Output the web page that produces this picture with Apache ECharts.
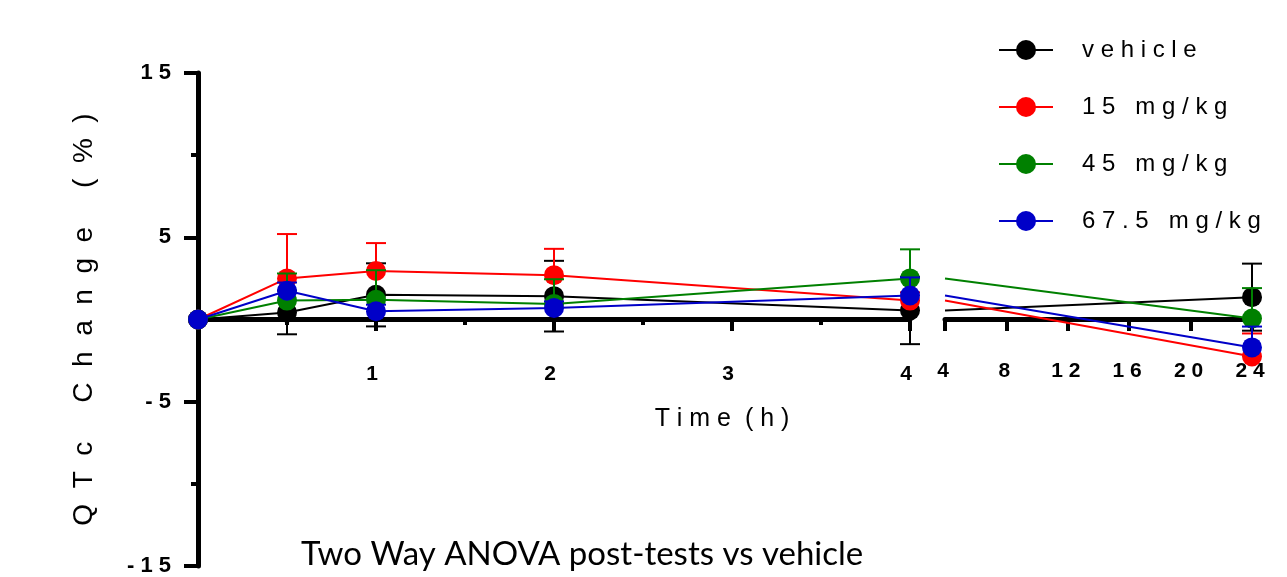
<!DOCTYPE html>
<html>
<head>
<meta charset="utf-8">
<script src="https://cdn.jsdelivr.net/npm/echarts@6/dist/echarts.min.js"></script>
<style>
html,body{margin:0;padding:0;background:#fff;}
#chart{width:1287px;height:577px;}
</style>
</head>
<body>
<div id="chart"></div>
<script>
// ---- data ----
const times = [0, 0.5, 1, 2, 4, 24];
const seriesNames = ['vehicle', '15 mg/kg', '45 mg/kg', '67.5 mg/kg'];
const seriesColors = ['#000000', '#ff0000', '#008000', '#0000c8'];
const vehicleMean = [0, 0.43, 1.5, 1.42, 0.55, 1.36];
const vehicleSem  = [0, 1.33, 1.92, 2.15, 2.05, 2.04];
const mg15Mean = [0, 2.5, 2.95, 2.7, 1.15, -2.25];
const mg15Sem  = [0, 2.7, 1.7, 1.6, 0.5, 1.4];
const mg45Mean = [0, 1.15, 1.2, 0.95, 2.5, 0.06];
const mg45Sem  = [0, 1.65, 1.8, 1.5, 1.77, 1.85];
const mg675Mean = [0, 1.75, 0.5, 0.7, 1.46, -1.7];
const mg675Sem  = [0, 0.5, 0.4, 0.4, 1.1, 1.27];
const errDirection = ['both', 'above', 'above', 'above'];
const yTicks = [-15, -5, 5, 15];
const xTicks1 = [1, 2, 3, 4];
const xTicks2 = [4, 8, 12, 16, 20, 24];

const means = [vehicleMean, mg15Mean, mg45Mean, mg675Mean];
const sems = [vehicleSem, mg15Sem, mg45Sem, mg675Sem];

function spaced(s) { return String(s).split('').join(' '); }

const FONT = 'Liberation Sans, Arial, sans-serif';
const chart = echarts.init(document.getElementById('chart'));

function errRender(dir, color) {
  return function (params, api) {
    const x = api.value(0), m = api.value(1), s = api.value(2);
    if (!s) return null;
    const top = api.coord([x, m + s]);
    const bot = api.coord([x, dir === 'both' ? m - s : m]);
    const w = 10;
    const st = { stroke: color, lineWidth: 2 };
    const ch = [
      { type: 'line', shape: { x1: top[0], y1: top[1], x2: bot[0], y2: bot[1] }, style: st },
      { type: 'line', shape: { x1: top[0] - w, y1: top[1], x2: top[0] + w, y2: top[1] }, style: st }
    ];
    if (dir === 'both') ch.push({ type: 'line', shape: { x1: bot[0] - w, y1: bot[1], x2: bot[0] + w, y2: bot[1] }, style: st });
    return { type: 'group', children: ch };
  };
}

const series = [];
seriesNames.forEach((name, i) => {
  const d1 = [], d2 = [], e1 = [], e2 = [];
  times.forEach((t, k) => {
    if (t <= 4) { d1.push([t, means[i][k]]); e1.push([t, means[i][k], sems[i][k]]); }
    if (t >= 4) {
      d2.push({ value: [t, means[i][k]], symbolSize: t === 4 ? 0 : 20 });
      if (t > 4) e2.push([t, means[i][k], sems[i][k]]);
    }
  });
  series.push({ type: 'line', name: name, xAxisIndex: 0, yAxisIndex: 0, z: 2 * i + 3,
    data: d1, symbol: 'circle', symbolSize: 20, color: seriesColors[i],
    lineStyle: { width: 2, color: seriesColors[i] }, itemStyle: { color: seriesColors[i] } });
  series.push({ type: 'line', name: name, xAxisIndex: 1, yAxisIndex: 1, z: 2 * i + 3,
    data: d2, symbol: 'circle', symbolSize: 20, color: seriesColors[i],
    lineStyle: { width: 2, color: seriesColors[i] }, itemStyle: { color: seriesColors[i] } });
  series.push({ type: 'custom', name: name + ' SEM', xAxisIndex: 0, yAxisIndex: 0, z: 2 * i + 2,
    renderItem: errRender(errDirection[i], seriesColors[i]), data: e1, encode: { x: 0, y: 1 }, silent: true,
    itemStyle: { color: seriesColors[i] } });
  series.push({ type: 'custom', name: name + ' SEM', xAxisIndex: 1, yAxisIndex: 1, z: 2 * i + 2,
    renderItem: errRender(errDirection[i], seriesColors[i]), data: e2, encode: { x: 0, y: 1 }, silent: true,
    itemStyle: { color: seriesColors[i] } });
});

const axisLineStyle = { color: '#000', width: 5 };
const X_OFFSET = -247; // x axis sits on y = 0

const option = {
  animation: false,
  grid: [
    { left: 198, top: 73, width: 712, height: 493, containLabel: false, outerBoundsMode: 'none' },
    { left: 945, top: 73, width: 307, height: 493, containLabel: false, outerBoundsMode: 'none' }
  ],
  xAxis: [
    { type: 'value', gridIndex: 0, min: 0, max: 4, interval: 1, position: 'bottom', offset: X_OFFSET,
      axisLine: { show: true, onZero: false, lineStyle: axisLineStyle },
      axisTick: { show: true, length: 12, lineStyle: { width: 4, color: '#000' } },
      minorTick: { show: true, splitNumber: 2, length: 6, lineStyle: { width: 4, color: '#000' } },
      splitLine: { show: false },
      axisLabel: { margin: 45, fontFamily: FONT, fontSize: 21, fontWeight: 'bold', color: '#000',
        padding: [0, 8, 0, 0],
        formatter: v => (xTicks1.indexOf(v) >= 0 ? spaced(v) : '') } },
    { type: 'value', gridIndex: 1, min: 4, max: 24, interval: 4, position: 'bottom', offset: X_OFFSET,
      axisLine: { show: true, onZero: false, lineStyle: axisLineStyle },
      axisTick: { show: true, length: 12, lineStyle: { width: 4, color: '#000' } },
      splitLine: { show: false },
      axisLabel: { margin: 42, fontFamily: FONT, fontSize: 21, fontWeight: 'bold', color: '#000',
        padding: [0, 4, 0, 0],
        formatter: v => (xTicks2.indexOf(v) >= 0 ? spaced(v) : '') } }
  ],
  yAxis: [
    { type: 'value', gridIndex: 0, min: -15, max: 15, interval: 10,
      axisLine: { show: true, lineStyle: axisLineStyle },
      axisTick: { show: true, length: 14, lineStyle: { width: 4, color: '#000' } },
      minorTick: { show: true, splitNumber: 2, length: 7, lineStyle: { width: 4, color: '#000' } },
      splitLine: { show: false },
      axisLabel: { margin: 27, fontFamily: FONT, fontSize: 22, fontWeight: 'bold', color: '#000',
        formatter: v => (yTicks.indexOf(v) >= 0 ? spaced(v) : '') },
      name: 'Q  T  c     C  h  a  n  g  e     (  %  )', nameLocation: 'middle', nameGap: 100, nameRotate: 90,
      nameTextStyle: { fontFamily: FONT, fontSize: 28, color: '#000' } },
    { type: 'value', gridIndex: 1, min: -15, max: 15, interval: 10, show: false }
  ],
  legend: {
    orient: 'vertical', left: 998, top: 38, padding: 0, itemWidth: 54, itemHeight: 25, itemGap: 33,
    data: seriesNames.map(n => ({ name: n })),
    formatter: n => spaced(n),
    textStyle: { fontFamily: FONT, fontSize: 24, color: '#000', padding: [0, 0, 0, 24] },
    selectedMode: false
  },
  title: [
    { text: 'T i m e  ( h )', left: 717, top: 402, textAlign: 'center',
      textStyle: { fontFamily: FONT, fontSize: 25, fontWeight: 'normal', color: '#000' } },
    { text: 'Two Way ANOVA post-tests vs vehicle', left: 296, top: 533,
      textStyle: { fontFamily: 'Lato, sans-serif', fontSize: 33, fontWeight: 'normal', color: '#000' } }
  ],
  series: series
};
chart.setOption(option);
</script>
</body>
</html>
